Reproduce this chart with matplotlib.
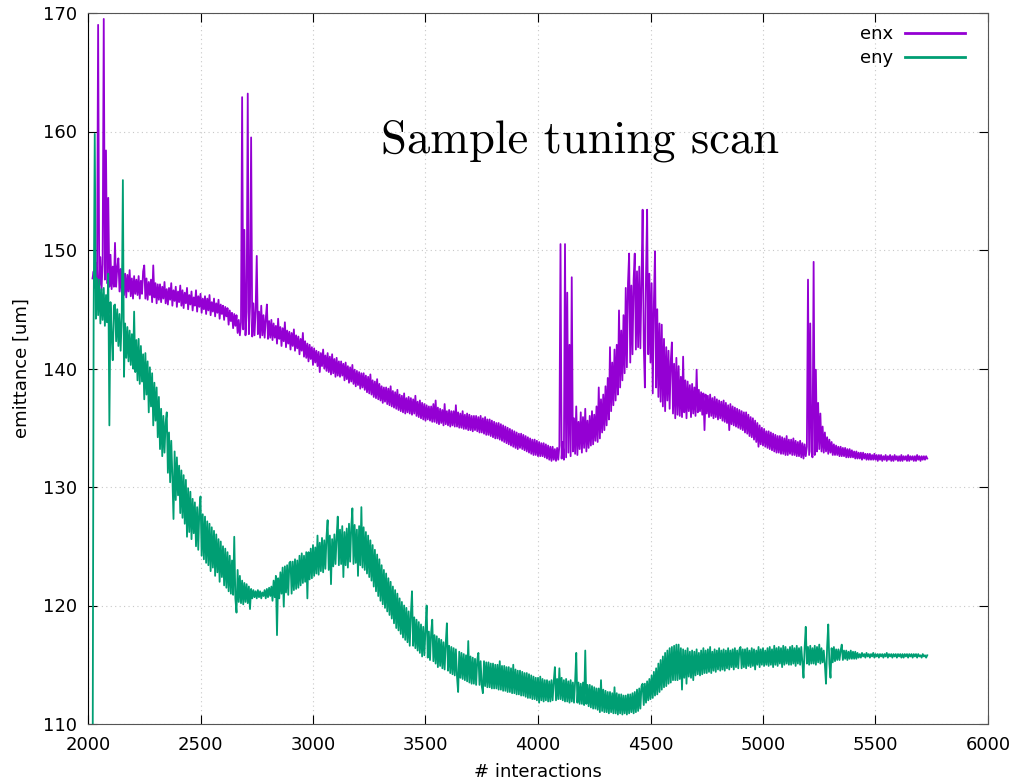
from __future__ import annotations

import matplotlib

matplotlib.use("Agg")
import matplotlib.pyplot as plt
import numpy as np


# one sample every 5 interactions, 2020 .. 5730
INTERACTIONS = np.arange(2020, 5731, 5)

ENX = [
    147.6, 148.2, 146.8, 148.9, 147.4, 169.0, 147.0, 149.4, 146.6, 148.8, 169.5, 147.5, 158.4, 147.2, 154.4, 146.9, 149.6, 146.7, 148.6, 146.9,
    150.6, 146.9, 148.5, 149.3, 146.5, 148.4, 146.4, 148.9, 146.2, 148.0, 146.0, 147.9, 146.5, 148.3, 146.1, 147.6, 145.9, 147.8, 146.3, 147.5,
    146.2, 147.8, 145.9, 147.4, 146.3, 148.2, 148.7, 145.9, 147.6, 145.8, 147.3, 146.2, 147.5, 145.6, 148.7, 146.0, 147.2, 145.5, 147.1, 145.8,
    147.1, 145.6, 146.9, 145.9, 147.3, 145.5, 146.7, 145.4, 146.8, 145.8, 147.2, 145.3, 146.6, 145.7, 146.9, 145.2, 146.5, 145.6, 147.0, 145.3,
    146.6, 145.1, 146.4, 145.5, 146.8, 145.0, 146.2, 145.4, 146.5, 144.9, 146.0, 145.3, 146.6, 144.8, 146.1, 145.2, 146.3, 144.7, 145.9, 145.0,
    146.1, 144.6, 145.9, 144.9, 146.2, 144.5, 145.6, 144.8, 145.9, 144.4, 145.5, 144.7, 145.8, 144.2, 145.4, 144.6, 145.3, 144.1, 145.2, 144.4,
    145.1, 143.7, 144.9, 144.0, 144.7, 143.4, 144.6, 143.6, 144.5, 143.0, 144.1, 142.8, 143.9, 162.9, 143.3, 151.7, 142.8, 144.8, 163.2, 142.9,
    145.2, 159.5, 142.7, 145.5, 142.8, 144.9, 149.5, 142.9, 144.8, 142.6, 145.3, 142.8, 144.5, 142.6, 144.2, 145.4, 142.5, 144.0, 142.6, 144.1,
    142.4, 143.8, 142.6, 143.6, 142.1, 144.2, 142.5, 143.5, 141.9, 143.4, 142.3, 143.9, 141.8, 143.2, 142.1, 143.1, 141.6, 143.0, 141.9, 143.3,
    141.5, 142.8, 141.7, 142.7, 141.2, 142.5, 141.5, 143.0, 141.0, 142.3, 140.9, 142.1, 140.6, 142.0, 140.8, 141.8, 140.3, 141.7, 140.5, 141.5,
    140.2, 141.4, 139.7, 141.3, 140.2, 141.6, 140.0, 141.1, 139.8, 141.3, 139.7, 141.0, 139.5, 141.2, 139.6, 140.8, 139.3, 140.9, 139.4, 140.6,
    139.3, 140.6, 139.4, 140.4, 139.0, 140.5, 139.1, 140.2, 138.8, 140.1, 138.9, 140.3, 138.7, 139.9, 138.5, 139.8, 138.6, 139.7, 138.3, 139.6,
    138.4, 139.6, 138.2, 139.4, 138.0, 139.3, 137.9, 139.5, 137.8, 139.0, 137.6, 138.9, 137.5, 139.1, 137.4, 138.7, 137.3, 138.5, 137.1, 138.4,
    137.2, 138.4, 137.0, 138.3, 136.9, 138.5, 136.8, 138.1, 136.7, 138.0, 136.6, 138.2, 136.5, 137.8, 136.4, 137.7, 136.3, 137.9, 136.2, 137.5,
    136.3, 137.6, 136.2, 137.5, 136.1, 137.4, 136.2, 137.7, 136.0, 137.2, 135.9, 137.3, 135.8, 137.1, 135.7, 137.0, 135.6, 136.9, 135.7, 136.8,
    135.6, 136.8, 135.5, 137.0, 135.5, 137.3, 135.4, 136.7, 135.3, 136.6, 135.4, 136.5, 135.2, 137.0, 135.3, 136.4, 135.2, 136.5, 135.1, 136.4,
    135.2, 136.4, 135.1, 136.9, 135.1, 136.3, 135.0, 136.2, 135.0, 136.4, 134.9, 136.1, 134.9, 136.2, 134.8, 136.1, 134.8, 136.0, 134.7, 136.0,
    134.8, 136.0, 134.7, 135.9, 134.6, 136.0, 134.6, 135.8, 134.5, 135.9, 134.4, 135.7, 134.4, 135.7, 134.3, 135.6, 134.2, 135.5, 134.1, 135.4,
    134.1, 135.4, 134.0, 135.3, 133.9, 135.2, 133.8, 135.1, 133.7, 135.0, 133.6, 134.9, 133.5, 134.8, 133.4, 134.7, 133.3, 134.6, 133.2, 134.5,
    133.3, 134.5, 133.2, 134.4, 133.1, 134.3, 133.0, 134.2, 132.9, 134.1, 132.8, 134.0, 132.7, 134.0, 132.7, 133.9, 132.6, 133.8, 132.6, 133.7,
    132.6, 133.7, 132.5, 133.6, 132.4, 133.5, 132.3, 133.4, 132.2, 133.4, 132.3, 133.2, 132.2, 133.3, 132.3, 133.5, 150.5, 132.4, 133.8, 132.3,
    150.5, 132.5, 146.4, 132.9, 142.0, 132.6, 147.7, 133.0, 135.8, 132.8, 136.8, 132.7, 135.5, 133.2, 136.3, 132.9, 135.9, 133.3, 136.6, 133.0,
    135.6, 133.3, 136.0, 133.5, 136.4, 133.6, 136.1, 133.9, 136.8, 133.8, 138.4, 134.1, 137.4, 134.6, 137.8, 134.8, 138.5, 135.2, 139.2, 135.7,
    141.8, 136.4, 140.5, 136.9, 141.6, 137.3, 142.0, 137.8, 144.9, 138.4, 143.2, 139.0, 144.5, 139.6, 146.8, 140.1, 147.2, 149.7, 140.5, 147.0,
    141.2, 147.5, 149.7, 141.6, 148.2, 141.8, 148.6, 141.7, 147.4, 153.4, 142.0, 138.4, 147.8, 153.4, 141.2, 148.0, 140.5, 147.2, 137.9, 145.5,
    149.9, 138.4, 145.0, 137.6, 143.8, 137.2, 143.7, 136.8, 142.5, 136.4, 141.8, 137.3, 141.5, 136.6, 140.6, 142.2, 136.2, 140.4, 135.8, 140.9,
    136.1, 140.2, 136.0, 139.3, 135.9, 141.0, 136.3, 139.0, 135.8, 138.9, 136.4, 138.6, 135.9, 138.7, 136.2, 138.4, 136.0, 139.9, 136.3, 138.2,
    136.4, 138.0, 136.1, 137.9, 134.8, 137.8, 136.2, 137.7, 135.9, 137.8, 136.0, 137.5, 135.8, 137.6, 135.9, 137.4, 135.7, 137.3, 135.8, 137.2,
    135.6, 137.3, 135.5, 137.1, 135.4, 136.9, 134.8, 137.0, 135.3, 136.8, 135.2, 136.7, 135.1, 136.6, 135.0, 136.5, 134.9, 136.4, 134.8, 136.3,
    134.6, 136.3, 134.5, 136.1, 134.3, 135.9, 134.2, 135.8, 134.0, 135.6, 133.8, 135.4, 133.4, 135.2, 133.6, 135.0, 133.5, 134.9, 133.4, 134.7,
    133.3, 134.7, 133.2, 134.6, 133.1, 134.5, 133.0, 134.4, 132.9, 134.3, 132.9, 134.3, 132.8, 134.2, 132.8, 134.1, 132.7, 134.3, 132.7, 134.0,
    132.8, 134.0, 132.7, 134.1, 132.7, 133.9, 132.6, 133.8, 132.6, 133.9, 132.5, 133.7, 132.4, 133.6, 132.6, 133.4, 147.5, 132.7, 143.8, 133.0,
    132.5, 149.0, 132.7, 139.9, 133.0, 137.1, 133.2, 136.2, 133.0, 135.1, 132.9, 134.6, 133.0, 134.2, 132.8, 134.0, 132.9, 133.8, 132.7, 133.6,
    132.7, 133.5, 132.7, 133.4, 132.6, 133.4, 132.6, 133.3, 132.6, 133.3, 132.5, 133.2, 132.5, 133.2, 132.5, 133.1, 132.5, 133.0, 132.4, 133.0,
    132.4, 132.9, 132.4, 132.9, 132.3, 132.9, 132.4, 132.8, 132.3, 132.8, 132.3, 132.8, 132.3, 132.7, 132.3, 132.8, 132.3, 132.7, 132.2, 132.7,
    132.3, 132.7, 132.2, 132.6, 132.3, 132.7, 132.2, 132.6, 132.3, 132.7, 132.2, 132.6, 132.2, 132.7, 132.3, 132.6, 132.2, 132.6, 132.2, 132.7,
    132.2, 132.6, 132.3, 132.6, 132.2, 132.7, 132.2, 132.6, 132.3, 132.6, 132.2, 132.6, 132.2, 132.7, 132.3, 132.6, 132.2, 132.6, 132.3, 132.6,
    132.3, 132.6, 132.4,
]

ENY = [
    100.0, 144.0, 159.8, 144.2, 147.6, 144.5, 147.5, 143.8, 146.7, 144.1, 146.8, 143.6, 146.2, 143.9, 148.0, 135.2, 145.6, 142.8, 140.7, 145.3,
    145.4, 142.3, 145.0, 141.9, 144.6, 141.5, 144.3, 155.9, 139.3, 143.8, 140.9, 143.5, 140.6, 143.2, 140.3, 142.9, 140.0, 144.8, 139.7, 142.4,
    139.0, 142.5, 138.7, 141.9, 138.9, 141.2, 137.4, 141.3, 137.8, 140.6, 136.3, 140.1, 136.8, 139.6, 135.2, 138.8, 135.6, 138.4, 134.2, 137.6,
    133.2, 136.6, 132.6, 136.0, 132.9, 135.4, 136.3, 131.2, 134.6, 130.4, 133.9, 130.9, 127.3, 133.0, 128.9, 132.5, 129.3, 131.8, 127.8, 131.4,
    127.4, 131.0, 126.9, 130.6, 125.8, 129.9, 126.2, 129.6, 125.6, 129.0, 126.1, 128.7, 125.0, 128.3, 124.7, 128.1, 129.2, 124.2, 127.7, 123.9,
    127.5, 123.6, 127.1, 123.4, 126.9, 122.9, 126.6, 123.2, 126.3, 122.5, 126.0, 122.8, 125.6, 122.0, 125.4, 122.4, 125.0, 121.7, 124.8, 121.5,
    124.5, 121.2, 124.2, 121.0, 123.8, 120.9, 125.8, 120.6, 119.4, 123.0, 120.3, 122.5, 120.2, 122.1, 120.1, 121.9, 120.3, 121.8, 120.2, 121.6,
    119.7, 121.4, 120.6, 121.3, 120.7, 121.2, 120.6, 121.3, 120.7, 121.2, 120.6, 121.1, 120.8, 121.3, 120.6, 121.4, 120.7, 121.5, 120.8, 121.6,
    120.4, 122.1, 120.7, 122.5, 117.5, 122.3, 120.6, 122.8, 121.0, 123.2, 119.9, 123.3, 121.1, 123.4, 120.9, 123.6, 123.7, 121.0, 123.7, 121.3,
    123.9, 121.4, 123.8, 121.5, 124.2, 121.7, 124.4, 121.9, 124.2, 122.0, 124.5, 120.6, 124.5, 122.2, 124.8, 122.3, 125.1, 122.5, 124.9, 122.7,
    125.9, 122.6, 125.3, 122.9, 125.7, 122.8, 125.5, 123.1, 125.8, 127.2, 123.0, 125.9, 121.8, 125.6, 123.3, 126.0, 123.5, 125.8, 127.5, 123.4,
    126.4, 123.5, 126.7, 122.4, 126.2, 123.4, 126.5, 123.2, 126.9, 123.7, 126.6, 128.2, 123.5, 126.8, 123.6, 126.4, 122.5, 126.7, 123.4, 128.3,
    123.2, 126.6, 123.0, 126.2, 122.7, 125.9, 122.4, 125.5, 122.1, 125.1, 121.6, 124.7, 121.2, 124.3, 120.8, 123.9, 120.4, 123.4, 120.1, 123.0,
    119.8, 122.7, 119.5, 122.3, 119.2, 122.0, 118.9, 121.6, 118.5, 121.3, 118.1, 121.0, 117.9, 120.6, 117.6, 120.3, 117.3, 120.0, 117.1, 119.8,
    116.9, 119.5, 116.6, 119.3, 121.2, 116.6, 119.0, 116.4, 118.8, 116.2, 118.6, 116.0, 118.4, 115.7, 118.2, 115.8, 118.0, 120.0, 115.6, 117.8,
    115.4, 117.7, 118.8, 115.3, 117.5, 115.1, 117.4, 114.8, 117.2, 114.9, 117.1, 114.7, 116.9, 114.6, 116.8, 118.5, 114.5, 116.6, 114.3, 116.5,
    114.2, 116.4, 114.1, 116.3, 114.0, 112.7, 116.1, 113.9, 116.0, 113.8, 115.9, 113.7, 115.8, 113.6, 117.0, 113.5, 115.7, 113.4, 115.6, 113.4,
    115.5, 113.3, 115.4, 116.0, 113.3, 115.3, 113.2, 112.6, 115.3, 113.2, 115.2, 113.1, 115.2, 113.1, 115.1, 113.0, 115.1, 113.0, 115.0, 113.0,
    115.0, 112.9, 115.3, 112.9, 114.9, 112.8, 114.9, 112.8, 114.8, 112.7, 114.8, 112.7, 114.7, 112.6, 115.0, 112.6, 114.6, 112.5, 114.5, 112.5,
    114.5, 112.4, 114.4, 112.4, 114.3, 112.3, 114.3, 112.2, 114.2, 112.2, 114.1, 112.1, 114.0, 112.1, 113.9, 112.0, 113.9, 111.8, 114.0, 112.0,
    113.8, 111.9, 113.7, 112.0, 113.7, 111.9, 113.6, 111.9, 113.7, 112.0, 113.6, 114.8, 112.0, 113.8, 112.1, 114.7, 112.1, 113.9, 112.0, 113.7,
    111.9, 113.8, 111.9, 113.6, 111.8, 113.7, 111.9, 113.5, 111.8, 113.6, 116.0, 111.8, 113.5, 111.7, 113.4, 111.7, 113.5, 111.6, 116.2, 111.7,
    113.3, 111.5, 113.3, 111.4, 113.2, 111.3, 113.1, 111.3, 113.0, 111.2, 113.0, 111.0, 113.7, 111.1, 112.9, 111.0, 112.8, 111.0, 112.7, 110.9,
    112.7, 111.0, 112.6, 110.9, 113.1, 110.9, 112.6, 110.8, 112.5, 110.9, 112.5, 110.8, 112.4, 110.9, 112.4, 110.8, 112.5, 110.9, 112.5, 111.0,
    112.6, 110.9, 112.7, 111.0, 112.9, 111.1, 113.0, 111.3, 113.2, 113.4, 111.6, 113.4, 111.8, 113.6, 112.0, 113.8, 112.1, 114.1, 112.2, 114.4,
    112.4, 114.7, 112.5, 115.1, 112.7, 115.4, 112.9, 115.7, 113.1, 116.0, 113.2, 116.2, 113.4, 116.4, 113.5, 116.5, 113.7, 116.6, 113.7, 116.7,
    113.7, 116.7, 113.8, 116.4, 112.9, 116.3, 113.9, 116.2, 113.4, 116.4, 114.0, 116.1, 113.9, 116.2, 113.7, 116.1, 114.1, 116.3, 114.2, 116.0,
    114.1, 116.2, 114.2, 116.4, 114.3, 116.2, 114.3, 116.3, 114.4, 116.5, 114.3, 116.1, 114.5, 116.3, 114.4, 116.2, 114.6, 116.4, 114.5, 116.2,
    114.6, 116.3, 114.5, 116.2, 114.7, 116.4, 114.6, 116.2, 114.8, 116.3, 114.6, 116.4, 114.8, 116.2, 114.7, 116.3, 116.5, 114.7, 116.3, 114.8,
    116.3, 114.7, 116.4, 114.9, 116.2, 114.8, 116.4, 114.9, 116.3, 114.6, 116.2, 115.0, 116.5, 114.8, 116.3, 115.0, 116.4, 114.9, 116.2, 115.0,
    116.4, 114.9, 116.5, 115.0, 116.3, 114.8, 116.6, 115.0, 116.4, 114.9, 116.5, 115.1, 116.4, 114.8, 116.6, 115.0, 116.5, 115.1, 116.3, 115.0,
    116.5, 115.0, 116.6, 115.1, 116.4, 114.9, 116.6, 115.1, 116.4, 115.0, 116.5, 115.2, 113.9, 116.4, 118.2, 115.1, 116.5, 115.0, 116.6, 115.1,
    116.4, 115.1, 116.6, 115.0, 116.5, 115.2, 116.7, 115.1, 116.4, 115.2, 116.2, 115.0, 113.4, 116.5, 118.4, 115.1, 113.9, 116.4, 115.2, 116.5,
    115.3, 116.3, 115.4, 116.3, 115.4, 116.2, 116.7, 115.4, 116.2, 115.5, 116.2, 115.4, 116.1, 115.5, 116.2, 115.5, 116.1, 115.5, 116.1, 115.5,
    116.0, 115.6, 115.9, 115.6, 116.0, 115.7, 115.9, 115.6, 116.0, 115.7, 115.9, 115.6, 115.9, 115.7, 116.0, 115.6, 115.9, 115.7, 115.9, 115.6,
    115.9, 115.7, 115.9, 115.6, 115.9, 115.7, 116.0, 115.6, 115.9, 115.7, 115.9, 115.6, 115.9, 115.7, 115.9, 115.6, 115.9, 115.7, 115.9, 115.6,
    115.9, 115.6, 115.9, 115.7, 115.9, 115.6, 115.9, 115.7, 115.9, 115.6, 115.9, 115.7, 115.9, 115.6, 115.9, 115.7, 115.8, 115.6, 115.9, 115.7,
    115.8, 115.6, 115.8,
]

X_TICKS = [2000, 2500, 3000, 3500, 4000, 4500, 5000, 5500, 6000]
Y_TICKS = [110, 120, 130, 140, 150, 160, 170]

COLORS = {"enx": "#9400d3", "eny": "#009e73"}


def main() -> None:
    assert len(ENX) == len(INTERACTIONS), len(ENX)
    assert len(ENY) == len(INTERACTIONS), len(ENY)
    plt.rcParams.update(
        {
            "font.family": "DejaVu Sans",
            "font.size": 13,
            "path.simplify": False,
            "xtick.direction": "in",
            "ytick.direction": "in",
            "xtick.top": True,
            "ytick.right": True,
            "xtick.major.size": 6.5,
            "ytick.major.size": 6.5,
            "xtick.major.pad": 9,
            "ytick.major.pad": 8,
        }
    )
    fig = plt.figure(figsize=(10.18, 7.81), dpi=100)
    ax = fig.add_axes([88 / 1018, 57 / 781, 900 / 1018, 711 / 781])

    ax.plot(INTERACTIONS, ENX, color=COLORS["enx"], linewidth=1.3, label="enx")
    ax.plot(INTERACTIONS, ENY, color=COLORS["eny"], linewidth=1.3, label="eny")

    ax.set_xlim(2000, 6000)
    ax.set_ylim(110, 170)
    ax.set_xticks(X_TICKS)
    ax.set_yticks(Y_TICKS)
    ax.grid(True, color="#c8c8c8", linestyle=(0, (1, 3)), linewidth=0.8)
    for side in ("top", "right", "bottom"):
        ax.spines[side].set_color("#555555")
    ax.spines["left"].set_color("black")

    ax.set_xlabel("# interactions", labelpad=6)
    ax.set_ylabel("emittance [um]", labelpad=9)

    ax.text(
        (580 - 88) / 900,
        (724 - 153) / 711,
        "Sample tuning scan",
        transform=ax.transAxes,
        ha="center",
        va="baseline",
        family="cmr10",
        fontsize=33.5,
    )

    leg = ax.legend(
        loc="upper right",
        bbox_to_anchor=((965 - 88) / 900, (724 - 25) / 711),
        frameon=False,
        markerfirst=False,
        handlelength=3.3,
        handletextpad=0.7,
        labelspacing=0.35,
        borderaxespad=0,
        borderpad=0,
    )
    for line in leg.get_lines():
        line.set_linewidth(2.0)

    fig.savefig("out.png", dpi=100)
    plt.close(fig)


if __name__ == "__main__":
    main()
